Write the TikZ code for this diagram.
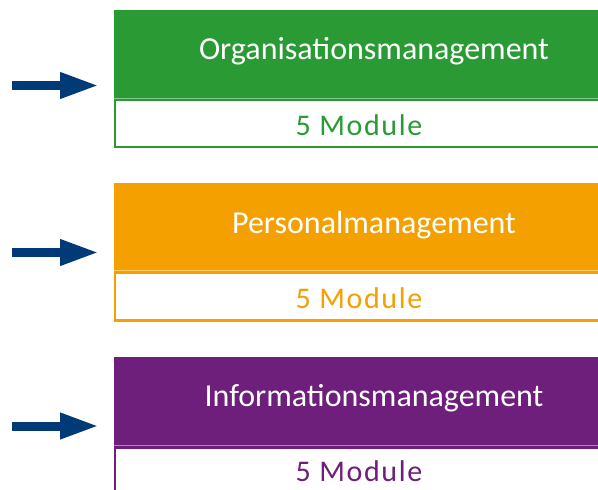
\documentclass[tikz,border=0pt]{standalone}
\usepackage{fontspec}
\setmainfont{Carlito}
\newfontfamily\modfont[LetterSpace=5.5]{Carlito}
\usetikzlibrary{arrows.meta}
\definecolor{cgreen}{HTML}{2A9B34}
\definecolor{corange}{HTML}{F4A000}
\definecolor{cpurple}{HTML}{6E1F7B}
\definecolor{cnavy}{HTML}{003B78}
\begin{document}
\begin{tikzpicture}[x=1pt,y=-1pt,
  headbox/.style={rectangle, fill=#1, draw=none, inner sep=0pt, outer sep=0pt, anchor=north west, minimum width=530pt},
  lowbox/.style={rectangle, draw=#1, fill=white, line width=2.6pt, inner sep=0pt, outer sep=0pt, anchor=north west, minimum width=530pt},
  seam/.style={draw=#1!55!white, line width=1pt},
  headtext/.style={anchor=base, text=white, inner sep=0pt, font=\fontsize{32}{32}\selectfont},
  modtext/.style={anchor=base, text=#1, inner sep=0pt, font=\modfont\fontsize{30}{30}\selectfont},
  bigarrow/.style={draw=cnavy, line width=9pt, -{Triangle[length=36.7pt,width=27.3pt,line width=0pt]}}
]
\useasboundingbox (0,0) rectangle (598,490);
\clip (0,0) rectangle (598,490);

% Box 1
\node[headbox=cgreen, minimum height=88.5pt] (h1) at (113.5,10) {};
\node[lowbox=cgreen, minimum height=47.25pt] (l1) at (114.8,99.8) {};
\draw[seam=cgreen] (h1.south west) -- (h1.south east);
\node[headtext] (t1) at (374,59.5) {Organisationsmanagement};
\node[modtext=cgreen] (m1) at (359,135.5) {5 Module};

% Box 2
\node[headbox=corange, minimum height=87.2pt] (h2) at (113.5,183.3) {};
\node[lowbox=corange, minimum height=48.25pt] (l2) at (114.8,272.3) {};
\draw[seam=corange] (h2.south west) -- (h2.south east);
\node[headtext] (t2) at (374,233.5) {Personalmanagement};
\node[modtext=corange] (m2) at (359,308.5) {5 Module};

% Box 3
\node[headbox=cpurple, minimum height=88.8pt] (h3) at (113.5,356.7) {};
\node[lowbox=cpurple, minimum height=60pt] (l3) at (114.8,447.3) {};
\draw[seam=cpurple] (h3.south west) -- (h3.south east);
\node[headtext] (t3) at (374,406.5) {Informationsmanagement};
\node[modtext=cpurple] (m3) at (359,481) {5 Module};

% Arrows
\coordinate (a1s) at (12,85.5);  \coordinate (a1e) at (96.7,85.5);
\coordinate (a2s) at (12,252.5); \coordinate (a2e) at (96.7,252.5);
\coordinate (a3s) at (12,426);   \coordinate (a3e) at (96.7,426);
\draw[bigarrow] (a1s) -- (a1e);
\draw[bigarrow] (a2s) -- (a2e);
\draw[bigarrow] (a3s) -- (a3e);
\end{tikzpicture}
\end{document}
